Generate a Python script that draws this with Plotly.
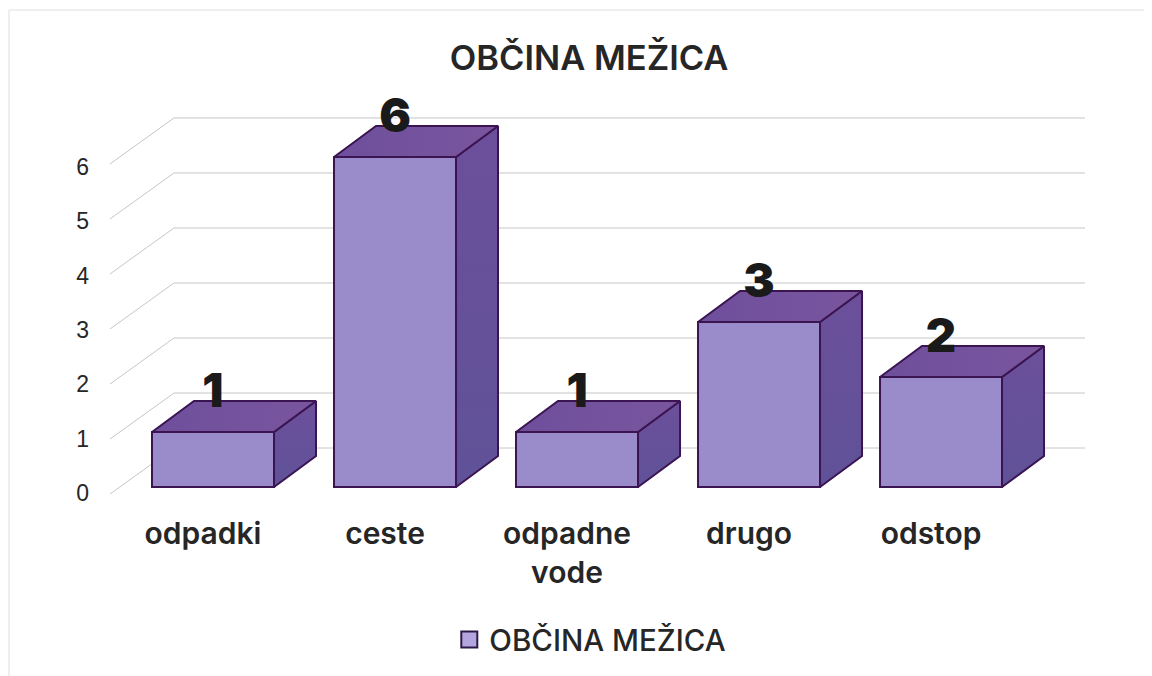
import plotly.graph_objects as go

categories = ["odpadki", "ceste", "odpadne<br>vode", "drugo", "odstop"]
values = [1, 6, 1, 3, 2]
y_ticks = [0, 1, 2, 3, 4, 5, 6]
series_name = "OBČINA MEŽICA"

# pseudo-3D geometry, in axis units (182 px per category, 55 px per value)
BAR_W = 122 / 182
DX = 42 / 182
DY = 31 / 55
BAR_OFF = 10 / 182
WALL_DX = 64 / 182
WALL_DY = 39 / 55
STUB_DY = 7 / 55

FRONT = "#9A8BCB"
EDGE = "#3B1552"
GRID = "#C6C6C6"
TEXT = "#262626"

X0, X1 = -0.511, 4.846
Y0, Y1 = -0.127, 7.09
xs = list(range(len(categories)))

fig = go.Figure()

# front faces
fig.add_trace(go.Bar(
    x=[i + BAR_OFF for i in xs], y=values, width=BAR_W,
    marker=dict(color=FRONT, line=dict(color=EDGE, width=2)),
    showlegend=False, hoverinfo="skip",
))

# side and top faces
for i, v in zip(xs, values):
    l = i + BAR_OFF - BAR_W / 2
    r = i + BAR_OFF + BAR_W / 2
    fig.add_trace(go.Scatter(
        x=[r, r + DX, r + DX, r, r], y=[0, DY, v + DY, v, 0],
        mode="lines", fill="toself",
        fillgradient=dict(type="vertical", colorscale=[[0, "#5F5298"], [1, "#6C4F9B"]]),
        line=dict(color=EDGE, width=2), showlegend=False, hoverinfo="skip",
    ))
    fig.add_trace(go.Scatter(
        x=[l, r, r + DX, l + DX, l], y=[v, v, v + DY, v + DY, v],
        mode="lines", fill="toself",
        fillgradient=dict(type="horizontal", colorscale=[[0, "#6E4F9C"], [1, "#7A559E"]]),
        line=dict(color=EDGE, width=2), showlegend=False, hoverinfo="skip",
    ))

# data labels
fig.add_trace(go.Scatter(
    x=[i + BAR_OFF for i in xs], y=[v + 0.67 for v in values],
    mode="text", text=[str(v) for v in values], textposition="middle center",
    textfont=dict(family="Inter, Liberation Sans", size=47, color="#1A1A1A", weight=900),
    showlegend=False, hoverinfo="skip", cliponaxis=False,
))

# legend entry
fig.add_trace(go.Scatter(
    x=[None], y=[None], mode="markers", name=series_name,
    marker=dict(symbol="square", size=16, color="#B3A6DE", line=dict(color="#2A1A45", width=2)),
))

# wall gridlines and left-side stubs, under all the marks
shapes = []
for v in y_ticks:
    base = dict(type="line", xref="x", yref="y", layer="below",
                line=dict(color=GRID, width=1))
    shapes.append(dict(base, x0=X0 + WALL_DX, x1=X1, y0=v + WALL_DY, y1=v + WALL_DY))
    shapes.append(dict(base, x0=X0, x1=X0 + WALL_DX, y0=v - STUB_DY, y1=v + WALL_DY))

# faint frame of the scanned chart
frame = dict(color="#DEDEDE", width=1)
shapes.append(dict(type="line", xref="paper", yref="paper", layer="below",
                   x0=-0.1036, x1=1.069, y0=1.2191, y1=1.2191, line=frame))
shapes.append(dict(type="line", xref="paper", yref="paper", layer="below",
                   x0=-0.1036, x1=-0.1036, y0=-0.458, y1=1.2191, line=frame))

fig.update_layout(
    width=1144, height=668,
    margin=dict(l=102, r=67, t=89, b=182),
    paper_bgcolor="white", plot_bgcolor="rgba(0,0,0,0)",
    barmode="overlay",
    shapes=shapes,
    title=dict(text=series_name, x=0.508, xanchor="center", y=0.925, yanchor="middle",
               font=dict(family="Inter", size=34.5, color=TEXT, weight=600)),
    xaxis=dict(range=[X0, X1], tickmode="array", tickvals=xs, ticktext=categories,
               showgrid=False, zeroline=False, showline=False, ticks="",
               ticklabelstandoff=19,
               tickfont=dict(family="Inter", size=30, color=TEXT, weight=600)),
    yaxis=dict(range=[Y0, Y1], tickmode="array",
               tickvals=[v * 0.988 - 0.109 for v in y_ticks],
               ticktext=[str(v) for v in y_ticks],
               showgrid=False, zeroline=False, showline=False, ticks="",
               ticklabelstandoff=20,
               tickfont=dict(family="Liberation Sans", size=23, color=TEXT)),
    legend=dict(orientation="h", xref="container", x=0.509, xanchor="center",
                yref="container", y=0.054, yanchor="middle",
                font=dict(family="Inter", size=29.5, color=TEXT, weight=500),
                itemwidth=30, bgcolor="rgba(0,0,0,0)"),
    hovermode=False,
)

fig.write_html("out.html")
